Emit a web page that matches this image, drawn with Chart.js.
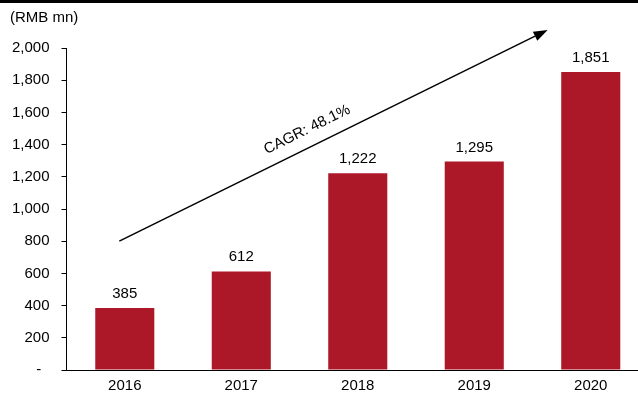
<!DOCTYPE html>
<html>
<head>
<meta charset="utf-8">
<script src="https://cdn.jsdelivr.net/npm/chart.js@4/dist/chart.umd.min.js"></script>
<style>
  html, body { margin: 0; padding: 0; background: #fff; }
  #wrap { width: 638px; height: 396px; overflow: hidden; position: relative; }
  canvas { display: block; }
</style>
</head>
<body>
<div id="wrap"><canvas id="c" width="652" height="404"></canvas></div>
<script>
const years = ['2016', '2017', '2018', '2019', '2020'];
const revenue = [385, 612, 1222, 1295, 1851];
const unitLabel = '(RMB mn)';
const cagrLabel = 'CAGR: 48.1%';
// growth arrow endpoints in data units (category index, value)
const arrowFrom = [-0.047, 800];
const arrowTo = [3.63, 2112];

const FONT = '"Liberation Sans", Arial, sans-serif';
const BAR = '#AD1829';

const fmt = v => v.toLocaleString('en-US');

const decorations = {
  id: 'decorations',
  beforeDraw(chart) {
    const ctx = chart.ctx;
    ctx.save();
    ctx.fillStyle = '#000';
    ctx.fillRect(0, 0, chart.width, 3);
    // unit caption above the value axis
    ctx.font = '15px ' + FONT;
    ctx.textAlign = 'left';
    ctx.textBaseline = 'middle';
    ctx.fillText(unitLabel, 10, 18);
    ctx.restore();
  },
  afterDatasetsDraw(chart) {
    const ctx = chart.ctx;
    const meta = chart.getDatasetMeta(0);
    ctx.save();
    ctx.font = '15px ' + FONT;
    ctx.fillStyle = '#000';
    ctx.textAlign = 'center';
    ctx.textBaseline = 'alphabetic';
    meta.data.forEach((bar, i) => {
      ctx.fillText(fmt(revenue[i]), bar.x, bar.y - 10);
    });

    // growth arrow
    const xs = chart.scales.x, ys = chart.scales.y;
    const x1 = xs.getPixelForValue(arrowFrom[0]), y1 = ys.getPixelForValue(arrowFrom[1]);
    const x2 = xs.getPixelForValue(arrowTo[0]), y2 = ys.getPixelForValue(arrowTo[1]);
    const ang = Math.atan2(y2 - y1, x2 - x1);
    const headLen = 14, headHalf = 5;
    const bx = x2 - headLen * Math.cos(ang), by = y2 - headLen * Math.sin(ang);
    ctx.strokeStyle = '#000';
    ctx.lineWidth = 1.5;
    ctx.beginPath();
    ctx.moveTo(x1, y1);
    ctx.lineTo(bx, by);
    ctx.stroke();
    ctx.beginPath();
    ctx.moveTo(x2, y2);
    ctx.lineTo(bx + headHalf * Math.sin(ang), by - headHalf * Math.cos(ang));
    ctx.lineTo(bx - headHalf * Math.sin(ang), by + headHalf * Math.cos(ang));
    ctx.closePath();
    ctx.fill();

    // CAGR label along the arrow
    const t = 0.456;
    const mx = x1 + (x2 - x1) * t, my = y1 + (y2 - y1) * t;
    const off = 17;
    const tx = mx + off * Math.sin(ang), ty = my - off * Math.cos(ang);
    ctx.translate(tx, ty);
    ctx.rotate(ang);
    ctx.textBaseline = 'middle';
    ctx.fillText(cagrLabel, 0, 0);
    ctx.restore();
  }
};

new Chart(document.getElementById('c'), {
  type: 'bar',
  data: {
    labels: years,
    datasets: [{
      data: revenue,
      backgroundColor: BAR,
      borderWidth: 0,
      categoryPercentage: 1,
      barPercentage: 0.507
    }]
  },
  options: {
    responsive: false,
    animation: false,
    devicePixelRatio: 1,
    layout: { padding: { left: 0, right: 3, top: 48, bottom: 2 } },
    plugins: {
      legend: { display: false },
      tooltip: { enabled: false },
      title: { display: false }
    },
    scales: {
      x: {
        grid: { drawOnChartArea: false, drawTicks: false },
        border: { display: true, color: '#000', width: 1 },
        ticks: { color: '#000', font: { family: FONT, size: 15 }, padding: 7 }
      },
      y: {
        min: 0,
        max: 2000,
        grid: { drawOnChartArea: false, drawTicks: true, tickLength: 5, color: '#000' },
        border: { display: true, color: '#000', width: 1 },
        ticks: {
          stepSize: 200,
          color: '#000',
          font: { family: FONT, size: 15 },
          padding: 12,
          callback: v => v === 0 ? '-  ' : fmt(v)
        }
      }
    }
  },
  plugins: [decorations]
});
</script>
</body>
</html>
